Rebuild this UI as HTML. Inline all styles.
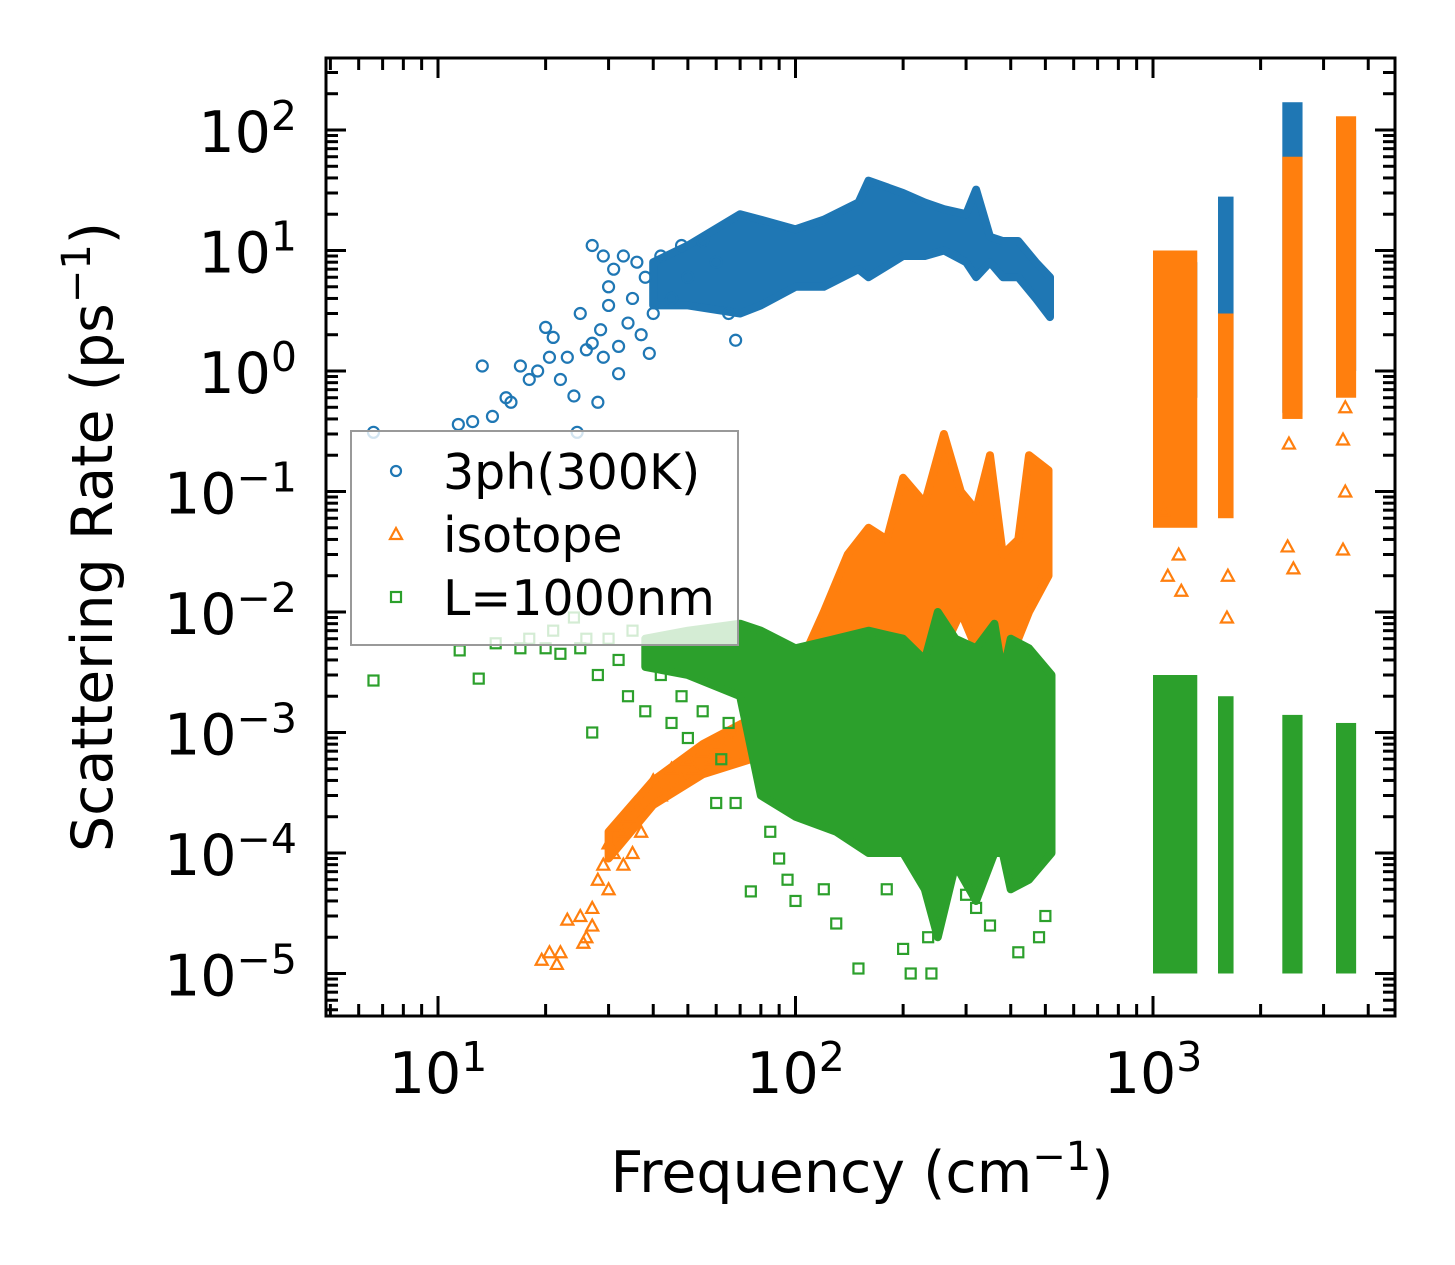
<!DOCTYPE html>
<html><head><meta charset="utf-8">
<style>
body{margin:0;background:#fff;}
svg{display:block;font-family:"DejaVu Sans","Liberation Sans",sans-serif;}
</style></head>
<body>
<svg id="chart" width="1455" height="1265" viewBox="0 0 1455 1265" xmlns="http://www.w3.org/2000/svg">
<rect width="1455" height="1265" fill="#fff"/>
<g id="marks"></g>
<g id="axes"></g>
<g id="legend">
  <rect x="351" y="431" width="387" height="214" fill="#fff" fill-opacity="0.8" stroke="#999" stroke-width="2"/>
  <circle cx="396" cy="471" r="5" fill="none" stroke="#1f77b4" stroke-width="2.2"/>
  <text x="443" y="489" font-size="49" fill="#000">3ph(300K)</text>
  <path d="M396,528 L402,539 L390,539 Z" fill="none" stroke="#ff7f0e" stroke-width="2.2"/>
  <text x="443" y="552" font-size="49" fill="#000">isotope</text>
  <rect x="391" y="592" width="10" height="10" fill="none" stroke="#2ca02c" stroke-width="2.2"/>
  <text x="443" y="615" font-size="49" fill="#000">L=1000nm</text>
</g>
<text x="862" y="1192" font-size="57" text-anchor="middle">Frequency (cm<tspan dy="-22" font-size="40">−1</tspan><tspan dy="22">)</tspan></text>
<text transform="translate(112,537) rotate(-90)" font-size="57" text-anchor="middle">Scattering Rate (ps<tspan dy="-22" font-size="40">−1</tspan><tspan dy="22">)</tspan></text>
</svg>
<script>
// ---------- data ----------
const blueFreq = [6.6,11.4,13.3,12.5,14.2,15.5,16,17,18,19,20,20.5,21,22,23,24,24.5,25,26,27,28,28.5,29,30,30,31,32,33,34,35,36,37,38,39,40,42,45,48,50,55,60,65,68,27,29,32];
const blueRate = [0.31,0.36,1.1,0.38,0.42,0.6,0.55,1.1,0.85,1.0,2.3,1.3,1.9,0.85,1.3,0.62,0.31,3,1.5,1.7,0.55,2.2,1.3,3.5,5,7,1.6,9,2.5,4,8,2,6,1.4,3,9,4,11,6,12,8,3,1.8,11,9,0.95];
const blueEnvFreq = [40,50,70,80,100,120,150,160,200,230,260,300,320,350,380,420,470,515];
const blueEnvHi   = [8,11,20,18,15,18,25,38,30,25,22,20,32,13,12,12,8,6];
const blueEnvLo   = [3.5,3.5,3,3.5,5,5,7,6,9,9,10,8,6,8,6,6,4,2.8];
const blueBandF0 = [1000,1520,2300,3250];
const blueBandF1 = [1330,1680,2620,3700];
const blueBandLo = [0.6,1.5,0.45,1.0];
const blueBandHi = [8,28,170,100];

const orangeFreq = [19.5,20.5,22,21.5,23,25,26,27,28,29,30,31,32,33,34,35,36,38,40,42,45,48,50,55,60,65,70,30,27,25.5,33,37,44,52,58,63,1070,1100,1180,1200,1620,1610,2380,2470,3400,3450,2400,3450,3400];
const orangeRate = [1.3e-5,1.5e-5,1.5e-5,1.2e-5,2.8e-5,3e-5,2e-5,3.5e-5,6e-5,8e-5,1.2e-4,1e-4,1.7e-4,1.5e-4,2e-4,1e-4,2.5e-4,3e-4,4e-4,3e-4,5e-4,4e-4,6e-4,7e-4,8e-4,9e-4,1e-3,5e-5,2.5e-5,1.8e-5,8e-5,1.5e-4,3.5e-4,5e-4,6e-4,7e-4,0.07,0.02,0.03,0.015,0.02,0.009,0.035,0.023,0.033,0.1,0.25,0.5,0.27];
const orangeEnvFreq = [30,40,55,75,100,120,140,160,180,200,230,260,290,320,350,380,420,450,510];
const orangeEnvHi   = [1.5e-4,4e-4,8e-4,1.3e-3,3e-3,1e-2,3e-2,5e-2,4e-2,0.13,0.08,0.3,0.1,0.07,0.2,0.03,0.04,0.2,0.15];
const orangeEnvLo   = [9e-5,2.5e-4,4.5e-4,6e-4,1e-3,2e-3,3e-3,4e-3,5e-3,5e-3,4e-3,5e-3,1e-2,5e-3,4e-3,4e-3,6e-3,1e-2,2e-2];
const orangeBandF0 = [1000,1520,2300,3250];
const orangeBandF1 = [1330,1680,2620,3700];
const orangeBandLo = [0.05,0.06,0.4,0.6];
const orangeBandHi = [10,3,60,130];

const greenFreq = [6.6,11.5,13,14.5,17,18,20,21,22,24,25,26,27,28,30,32,34,35,38,40,42,45,48,50,55,60,62,65,68,75,85,90,95,100,120,130,150,180,200,210,235,240,300,320,350,420,480,500];
const greenRate = [2.7e-3,4.8e-3,2.8e-3,5.5e-3,5e-3,6e-3,5e-3,7e-3,4.5e-3,9e-3,5e-3,6e-3,1e-3,3e-3,6e-3,4e-3,2e-3,7e-3,1.5e-3,4e-3,3e-3,1.2e-3,2e-3,9e-4,1.5e-3,2.6e-4,6e-4,1.2e-3,2.6e-4,4.8e-5,1.5e-4,9e-5,6e-5,4e-5,5e-5,2.6e-5,1.1e-5,5e-5,1.6e-5,1e-5,2e-5,1e-5,4.5e-5,3.5e-5,2.5e-5,1.5e-5,2e-5,3e-5];
const greenEnvFreq = [38,50,70,80,100,130,160,200,230,250,280,320,360,380,400,450,520];
const greenEnvHi   = [6e-3,7e-3,8e-3,7e-3,5e-3,6e-3,7e-3,6e-3,4e-3,1e-2,6e-3,5e-3,8e-3,3e-3,6e-3,5e-3,3e-3];
const greenEnvLo   = [3.5e-3,3e-3,2e-3,3e-4,2e-4,1.5e-4,1e-4,1e-4,5e-5,2e-5,8e-5,4e-5,1e-4,1e-4,5e-5,6e-5,1e-4];
const greenBandF0 = [1000,1520,2300,3250];
const greenBandF1 = [1330,1680,2620,3700];
const greenBandLo = [1e-5,1e-5,1e-5,1e-5];
const greenBandHi = [3e-3,2e-3,1.4e-3,1.2e-3];

const xTickLabels = ["1","2","3"];
const yTickLabels = ["2","1","0","−1","−2","−3","−4","−5"];

// ---------- axes ----------
const L=326,R=1395,T=58,B=1016;
const xScale = f => 438 + (Math.log10(f)-1)*357.5;
const yScale = v => 130 + (2-Math.log10(v))*120.5;
const NS="http://www.w3.org/2000/svg";
const marks=document.getElementById('marks'), axes=document.getElementById('axes');
function mk(tag,attrs,parent){const e=document.createElementNS(NS,tag);for(const k in attrs)e.setAttribute(k,attrs[k]);parent.appendChild(e);return e;}

const clip=mk('clipPath',{id:'pc'},document.getElementById('chart'));
mk('rect',{x:L,y:T,width:R-L,height:B-T},clip);
marks.setAttribute('clip-path','url(#pc)');

function envelope(F,H,Lo,color,name){
  let d='M'+F.map((f,i)=>xScale(f).toFixed(1)+','+yScale(H[i]).toFixed(1)).join(' L');
  for(let i=F.length-1;i>=0;i--) d+=' L'+xScale(F[i]).toFixed(1)+','+yScale(Lo[i]).toFixed(1);
  d+=' Z';
  const p=mk('path',{d:d,fill:color,stroke:color,'stroke-width':8,'stroke-linejoin':'round'},marks);
  
  
}
function bands(F0,F1,Lo,Hi,color,name){
  F0.forEach((f,i)=>{
    const r=mk('rect',{x:xScale(f),y:yScale(Hi[i]),width:xScale(F1[i])-xScale(f),height:yScale(Lo[i])-yScale(Hi[i]),fill:color},marks);
    
    
  });
}
function scatter(F,V,shape,color,name){
  F.forEach((f,i)=>{
    const x=xScale(f),y=yScale(V[i]);let e;
    if(shape==='c') e=mk('circle',{cx:x,cy:y,r:5.5,fill:'none',stroke:color,'stroke-width':2.2},marks);
    else if(shape==='t') e=mk('path',{d:`M${x},${y-6} L${x+6},${y+5} L${x-6},${y+5} Z`,fill:'none',stroke:color,'stroke-width':2.2},marks);
    else e=mk('rect',{x:x-5,y:y-5,width:10,height:10,fill:'none',stroke:color,'stroke-width':2.2},marks);
    
    
  });
}
const BL='#1f77b4',OR='#ff7f0e',GR='#2ca02c';
envelope(blueEnvFreq,blueEnvHi,blueEnvLo,BL,'3ph-cloud');
bands(blueBandF0,blueBandF1,blueBandLo,blueBandHi,BL,'3ph-band');
scatter(blueFreq,blueRate,'c',BL,'3ph-point');
envelope(orangeEnvFreq,orangeEnvHi,orangeEnvLo,OR,'isotope-cloud');
bands(orangeBandF0,orangeBandF1,orangeBandLo,orangeBandHi,OR,'isotope-band');
scatter(orangeFreq,orangeRate,'t',OR,'isotope-point');
envelope(greenEnvFreq,greenEnvHi,greenEnvLo,GR,'boundary-cloud');
bands(greenBandF0,greenBandF1,greenBandLo,greenBandHi,GR,'boundary-band');
scatter(greenFreq,greenRate,'s',GR,'boundary-point');

// frame
mk('rect',{x:L,y:T,width:R-L,height:B-T,fill:'none',stroke:'#000','stroke-width':3},axes);
// x ticks
for(let d=0;d<=3;d++){for(let m=1;m<=9;m++){const f=m*Math.pow(10,d);const x=xScale(f);if(x<L||x>R)continue;const len=m===1?20:12;
  mk('line',{x1:x,y1:B,x2:x,y2:B-len,stroke:'#000','stroke-width':3},axes);
  mk('line',{x1:x,y1:T,x2:x,y2:T+len,stroke:'#000','stroke-width':3},axes);}}
xTickLabels.forEach(s=>{const x=xScale(Math.pow(10,+s));
  const t=mk('text',{x:x,y:1093,'font-size':57,'text-anchor':'middle'},axes);
  
  
  t.innerHTML='10<tspan dy="-22" font-size="41">'+s+'</tspan>';});
// y ticks
for(let d=-6;d<=2;d++){for(let m=1;m<=9;m++){const v=m*Math.pow(10,d);const y=yScale(v);if(y<T||y>B)continue;const len=m===1?20:12;
  mk('line',{x1:L,y1:y,x2:L+len,y2:y,stroke:'#000','stroke-width':3},axes);
  mk('line',{x1:R,y1:y,x2:R-len,y2:y,stroke:'#000','stroke-width':3},axes);}}
yTickLabels.forEach(s=>{const y=yScale(Math.pow(10,+s.replace('−','-')));
  const t=mk('text',{x:297,y:y+22,'font-size':57,'text-anchor':'end'},axes);
  
  
  t.innerHTML='10<tspan dy="-22" font-size="41">'+s+'</tspan>';});
</script>
</body></html>
